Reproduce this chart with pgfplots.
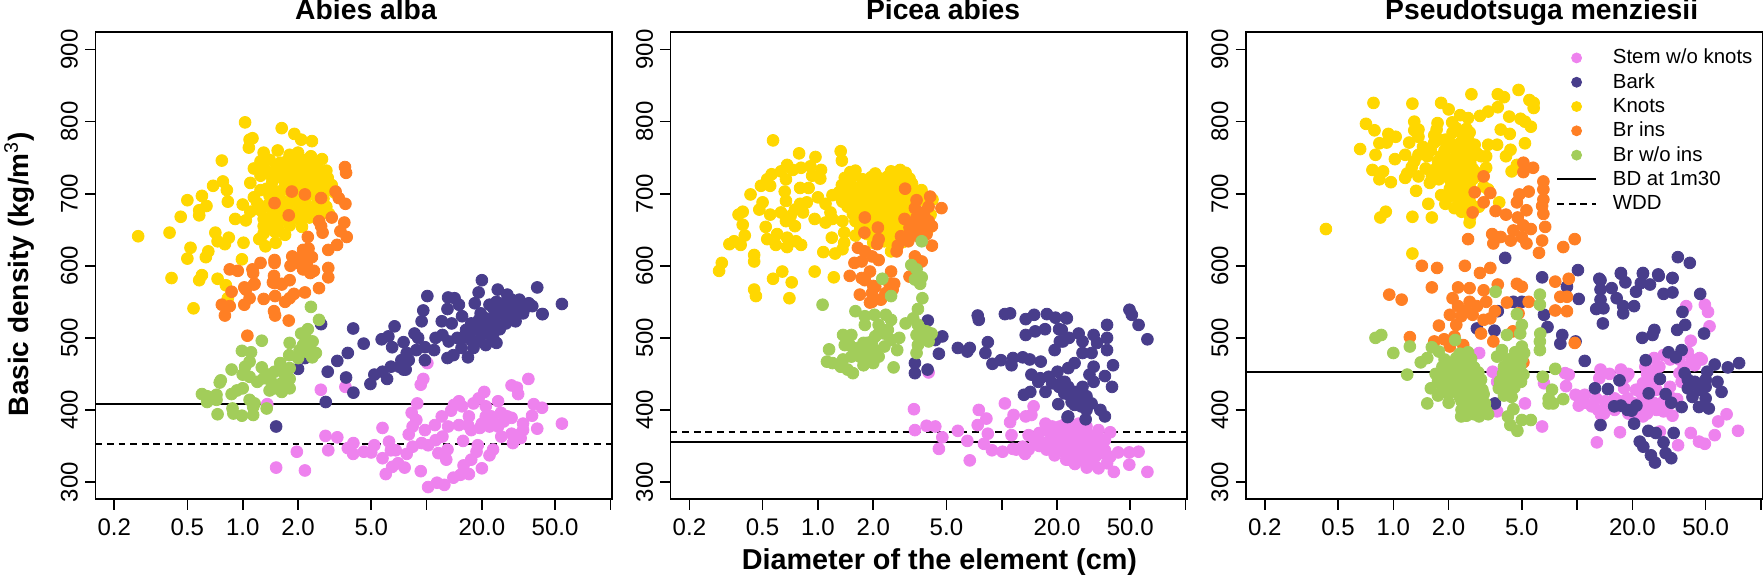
\documentclass[border=0pt]{standalone}
\usepackage{fontspec}
\setmainfont{Liberation Sans}
\usepackage{pgfplots}
\pgfplotsset{compat=1.18}

\definecolor{stemc}{HTML}{EE82EE}
\definecolor{barkc}{HTML}{483D8B}
\definecolor{knotc}{HTML}{FFD700}
\definecolor{brinc}{HTML}{FF7F24}
\definecolor{brwoc}{HTML}{A2CD5A}

\pgfplotsset{
  tripanel/.style={
    /pgfplots/.cd,
    xmin=0.158, xmax=101.8, ymin=276, ymax=924,
    scale only axis, width=258.2pt, height=233.5pt,
    xtick={0.2,0.5,1,2,5,10,20,50,100},
    xticklabels={0.2,0.5,1.0,2.0,5.0,{},20.0,50.0,{}},
    minor tick num=0, xminorticks=false,
    ytick={300,400,500,600,700,800,900},
    tick align=outside, major tick length=5.2pt,
    xtick pos=bottom, ytick pos=left,
    axis line style={line width=0.8pt}, every tick/.style={black,line width=0.8pt},
    tick label style={font=\fontsize{12}{14}\selectfont},
    yticklabel style={rotate=90,anchor=south,inner sep=0pt,outer sep=0pt},
    yticklabel shift=3.6pt,
    xticklabel style={anchor=north,inner sep=0pt,outer sep=0pt},
    xticklabel shift=4.5pt,
    title style={anchor=base,yshift=0.2pt,font=\bfseries\fontsize{14.15}{17}\selectfont},
    /pgf/number format/assume math mode=true,
  },
  pts/.style={only marks, mark=*, mark size=2.95pt, color=#1, mark options={draw=none}},
  wline/.style={black, line width=1pt, no marks},
  dline/.style={black, line width=1pt, no marks, dash pattern=on 3.4pt off 2.4pt},
}

\begin{document}
\begin{tikzpicture}
\useasboundingbox (-47.7pt,-38.35pt) rectangle (833.8pt,249.65pt);

% Abies alba
\begin{semilogxaxis}[tripanel, anchor=south west, at={(0pt,0pt)}, title={Abies alba},
  title style={at={(axis description cs:0.524,1)}}]
\addplot[pts=stemc] coordinates {(1.52,320)(2.18,316)(1.97,342)(2.82,364)(3.27,362)(2.92,344)(2.66,428)(1.36,408)(3.62,432)(10.1,465)(9.6,443)(9.3,435)(3.73,347)(4.0,354)(3.99,339)(4.56,342)(5,341)(5.2,351)(5.76,375)(6.25,356)(6.4,344)(6.8,344)(5.76,333)(6,311)(6.5,321)(7,326)(7.6,320)(7.8,339)(8.4,349)(9.4,354)(10.2,351)(11.2,358)(12.2,363)(9.3,315)(10.2,293)(11.4,299)(12.5,296)(11.6,340)(13,345)(12.8,331)(14,306)(15.3,310)(17,311)(15.9,323)(17.5,331)(20,319)(18.7,342)(19,351)(22,337)(23,345)(15.8,357)(9.8,372)(8,366)(8.4,377)(8.8,386)(8.3,396)(8.9,409)(11.1,379)(12.1,391)(13.1,377)(15,379)(13.6,399)(14.1,407)(15,412)(15.6,405)(17,391)(18,409)(19.2,416)(20.6,425)(21,405)(24.5,412)(29,434)(31,431)(31.5,422)(35.8,443)(38.3,408)(42.5,403)(37.5,392)(33.5,381)(40,374)(54.5,381)(20,381)(22.5,391)(25.4,396)(27.5,391)(29,389)(24.5,377)(22,377)(19.5,375)(17.5,372)(16.8,379)(25.5,363)(29,367)(31,365)(29.5,354)(32.5,361)(33.5,372)(23,384)(26.3,384)(21,391)};
\addplot[pts=barkc] coordinates {(1.52,377)(2.83,411)(4.0,424)(3.65,445)(2.9,453)(3.27,468)(3.73,479)(4.55,492)(3.99,513)(2.67,519)(2.0,457)(2.18,472)(4.95,436)(5.2,449)(5.76,453)(6.1,443)(6.4,460)(7.1,460)(7.5,456)(7.7,456)(7.3,469)(8.0,469)(7.8,479)(8.8,483)(9.8,469)(9.8,487)(11,483)(6.5,487)(5.7,498)(6.2,502)(7.5,494)(6.7,516)(8.6,506)(9.0,500)(9.4,523)(9.6,538)(10.1,558)(13.1,556)(14.2,555)(15,546)(13,540)(12.1,523)(13.7,520)(11.2,500)(12.2,504)(13.2,495)(13,472)(14,476)(15.5,486)(16.8,473)(15.6,500)(16.4,511)(15.6,530)(18.3,548)(19.2,563)(20,580)(24.4,567)(27.5,560)(40,570)(32,553)(37.6,544)(42.6,533)(18,486)(21,490)(24,493)(23,500)(17.5,497)(20,516)(22.5,525)(25,512)(22,546)(25.5,544)(27,535)(29.5,544)(30.5,523)(33.5,534)(29,553)(25.5,534)(23.5,530)(19.7,534)(17.5,520)(19.3,525)(21,527)(27.5,527)(30,534)(26.3,548)(23.1,541)(14.7,500)(16.8,509)(18.3,511)(54.5,547)(42.8,533)(24,550)(26,540)(28,545)(30,545)(32,540)(28,525)(34,540)(36,548)(24,520)(22,515)(27,520)(20,505)(19,495)(22,505)};
\addplot[pts=knotc] coordinates {(0.27,641)(0.40,646)(0.46,668)(0.50,691)(0.60,697)(0.58,677)(0.58,670)(0.635,683)(0.69,711)(0.78,717)(0.82,705)(0.77,746)(0.83,689)(0.91,665)(1.04,663)(0.71,646)(0.84,639)(0.73,634)(0.80,630)(1.01,632)(0.52,625)(0.50,610)(0.65,620)(0.63,612)(0.99,609)(0.41,583)(0.60,587)(0.58,580)(0.73,582)(0.81,573)(0.54,541)(0.83,555)(1.03,799)(1.63,791)(1.09,775)(1.13,777)(1.08,764)(1.91,783)(2.38,773)(2.08,775)
(1.3,757)(1.55,760)(1.8,754)(2.0,757)(2.35,752)(1.25,745)(1.4,747)(1.6,743)(1.75,746)(1.95,744)(2.2,747)(2.45,742)(2.7,748)(1.15,735)(1.3,737)(1.5,733)(1.7,736)(1.85,734)(2.05,737)(2.3,733)(2.55,736)(2.85,732)(1.25,725)(1.4,727)(1.6,723)(1.8,726)(2.0,724)(2.2,727)(2.4,723)(2.65,726)(2.9,722)(1.1,715)(1.45,717)(1.7,713)(1.9,716)(2.1,714)(2.3,717)(2.55,713)(2.8,716)(3.05,712)(1.25,705)(1.35,707)(1.55,703)(1.75,706)(2.0,704)(2.3,707)(2.6,703)(2.95,706)(3.15,702)(1.15,695)(1.4,697)(1.6,693)(1.85,696)(2.2,694)(2.5,697)(2.75,693)(1.0,685)(1.2,687)(1.35,683)(1.5,686)(1.75,684)(2.0,687)(2.25,683)(2.55,686)(2.85,682)(1.1,675)(1.25,677)(1.45,673)(1.65,676)(1.95,674)(2.15,677)(2.4,673)(2.7,676)(2.95,672)(1.3,665)(1.45,667)(1.6,663)(1.8,666)(2.05,664)(2.3,667)(2.6,663)(1.3,655)(1.4,657)(1.55,653)(1.8,656)(2.1,654)(1.3,645)(1.5,647)(1.7,643)(1.25,638)(1.51,632)(1.33,627)(1.23,637)};
\addplot[pts=brinc] coordinates {(3.6,737)(3.65,729)(1.85,703)(2.18,699)(2.67,694)(1.49,687)(1.78,670)(3.2,703)(3.33,694)(3.62,686)(3.57,660)(3.05,667)(2.6,662)(2.67,655)(2.72,646)(3.4,648)(3.68,640)(2.26,640)(3.26,629)(2.92,622)(1.86,613)(2.13,622)(2.28,624)(2.38,612)(2.04,603)(2.23,603)(1.82,600)(2.13,595)(2.33,590)(2.44,593)(1.49,608)(1.49,604)(1.25,604)(1.13,595)(1.14,590)(0.85,595)(0.94,593)(2.92,597)(2.92,584)(1.48,586)(1.46,577)(1.8,580)(1.63,575)(1.16,575)(1.02,570)(2.6,569)(2.18,563)(1.9,561)(1.8,555)(1.7,550)(1.5,558)(1.3,554)(1.15,574)(1.04,567)(1.09,555)(1.02,546)(0.87,564)(0.77,546)(0.85,544)(0.8,531)(1.48,537)(1.5,531)(1.78,524)(1.06,503)(1.49,576)(1.63,574)(2.1,612)(2.0,610)(2.25,615)};
\addplot[pts=brwoc] coordinates {(2.35,543)(2.6,525)(2.26,512)(2.08,506)(1.27,496)(1.8,493)(2.4,495)(2.2,500)(2.13,490)(2.33,486)(2.5,479)(1.79,476)(2.0,472)(2.2,481)(2.39,473)(2.04,483)(0.99,482)(1.11,480)(1.09,467)(1.03,460)(0.87,456)(1.27,459)(1.0,449)(1.09,446)(1.2,439)(0.76,441)(0.75,438)(1.6,465)(1.49,453)(1.38,449)(1.63,456)(1.8,458)(1.8,443)(1.7,449)(1.43,439)(1.63,437)(1.49,430)(1.4,427)(1.63,425)(1.8,430)(1.3,444)(1.0,430)(0.93,427)(0.87,422)(0.6,422)(0.64,419)(0.72,421)(0.64,411)(0.72,414)(1.09,414)(1.16,409)(1.14,404)(1.35,402)(0.88,402)(0.89,395)(0.99,392)(1.14,393)(0.73,394)};
\addplot[wline] coordinates {(0.158,408)(101.8,408)};
\addplot[dline] coordinates {(0.158,353)(101.8,353)};
\end{semilogxaxis}

% Picea abies
\begin{semilogxaxis}[tripanel, anchor=south west, at={(287.6pt,0pt)}, title={Picea abies},
  title style={at={(axis description cs:0.5277,1)}}]
\addplot[pts=stemc] coordinates {(3.33,401)(3.37,372)(3.9,378)(4.35,377)(4.75,362)(4.55,346)(5.77,371)(6.5,357)(6.7,330)(4,452)(7.5,400)(8.25,388)(7.4,379)(8.4,367)(8.0,353)(8.85,344)(10.1,342)(10.4,409)(11.6,393)(11.1,383)(11.3,365)(11.5,346)(13,349)(13.4,339)(13.5,391)(14.9,405)(14.5,393)(14,365)(15.2,356)(17.3,381)(17,354)(18.8,377)(18.8,363)(20.5,368)(19.4,337)(22.4,331)(23.8,349)(24.9,363)(21.5,358)(22.8,372)(25.5,379)(23,377)(26.2,381)(28.9,377)(33.6,372)(38.9,369)(23,363)(27,358)(28.9,351)(32.3,349)(36.4,344)(38.9,335)(33.6,319)(37.4,326)(40.7,314)(43,341)(49.4,341)(55.5,342)(49.4,324)(62,314)(28.9,326)(26.2,331)(23,331)(24.9,349)(32.3,335)(35,356)(29.9,365)(26.2,367)(21.9,367)(20.7,377)(36.4,358)(30.8,344)(27.5,340)(21.9,342)(15,360)(16,350)(17.5,345)(19,350)(20,358)(21,345)(22,352)(24,340)(25,335)(26,345)(27,332)(28,340)(29,336)(31,338)(30,355)(33,345)(18,370)(20,375)(22,380)(24,370)(26,360)(28,365)(31,360)(33,362)(16,368)(14,345)(12,345)(20,342)(18,356)(23,345)(35,340)(25,325)(29,320)(31,325)};
\addplot[pts=barkc] coordinates {(3.96,524)(4.75,502)(4.35,497)(4.55,478)(3.37,465)(3.37,451)(3.95,456)(5.77,486)(6.5,481)(6.7,486)(8.4,494)(8.15,479)(8.9,464)(9.9,469)(11.3,462)(11.5,472)(13,473)(14.2,470)(7.4,531)(7.5,525)(10.4,533)(11.1,534)(13.5,526)(15,532)(17.6,533)(19.6,528)(22.4,528)(13.5,504)(15.2,509)(17.2,512)(20.5,512)(21.5,495)(19.4,483)(16.3,467)(14.5,449)(15.8,439)(18,446)(20.1,453)(22,439)(17.3,425)(14.3,425)(13.2,421)(20.3,408)(22.8,390)(16.2,444)(18.8,437)(20.5,432)(22.3,428)(23.8,418)(24.9,407)(22.6,527)(23,391)(28.6,387)(36.4,391)(34.4,400)(39.8,432)(36.4,447)(31.6,439)(30,449)(40.3,462)(37.4,518)(37.4,500)(37.4,483)(31.6,504)(26.2,506)(23.2,500)(27.5,495)(33,493)(30.8,479)(27.5,479)(24.9,465)(23,458)(31.6,460)(20.7,495)(21.2,511)(49.5,539)(51,532)(55.5,518)(62,498)(21.9,423)(24.9,425)(27.5,416)(24,411)(21.2,439)(26.2,416)(28.9,419)(28.9,400)(27,405)(30.8,409)(23,432)(27.5,432)};
\addplot[pts=knotc] coordinates {(0.57,774)(0.79,756)(0.97,751)(1.33,759)(1.35,746)(0.43,699)(0.49,711)(0.56,727)(0.53,720)(0.55,711)(0.39,675)(0.37,671)(0.39,657)(0.5,688)(0.48,678)(0.55,671)(0.52,654)(0.4,642)(0.33,630)(0.35,634)(0.38,629)(0.53,637)(0.6,644)(0.59,629)(0.68,639)(0.68,626)(0.76,634)(0.81,629)(0.45,615)(0.45,606)(0.30,604)(0.29,593)(0.64,592)(0.57,582)(0.72,577)(0.96,592)(1.22,584)(1.07,619)(1.24,617)(0.45,567)(0.46,558)(0.7,555)(0.63,731)(0.68,740)(0.73,733)(0.81,736)(0.91,738)(1.04,733)(1.03,721)(0.93,725)(0.67,720)(0.8,708)(0.89,708)(0.66,703)(0.67,690)(0.87,688)(0.8,686)(0.75,678)(0.83,674)(0.71,669)(0.63,674)(0.67,662)(0.75,655)(0.96,665)(1,695)(1.1,686)(1.2,698)(1.36,689)(1.17,674)(1.1,660)(1.2,665)(1.36,662)(1.19,639)(1.39,646)(1.39,632)(1.36,623)
(1.5,730)(1.6,732)(2.05,728)(2.5,731)(2.8,733)(3.0,729)(1.4,722)(1.55,724)(1.75,720)(1.95,723)(2.2,721)(2.4,724)(2.65,720)(2.9,723)(3.15,721)(1.35,712)(1.5,714)(1.7,710)(1.85,713)(2.05,711)(2.3,714)(2.5,710)(2.7,713)(3.0,711)(3.25,714)(1.3,702)(1.4,704)(1.6,700)(1.8,703)(1.95,701)(2.15,704)(2.4,700)(2.6,703)(2.85,701)(3.1,704)(3.4,700)(3.6,703)(1.35,692)(1.5,694)(1.7,690)(1.9,693)(2.1,691)(2.3,694)(2.5,690)(2.75,693)(3.0,691)(3.3,694)(3.8,690)(1.45,682)(1.65,684)(1.8,680)(2.0,683)(2.2,681)(2.45,684)(2.7,680)(2.95,683)(3.2,681)(1.55,672)(1.75,674)(1.95,670)(2.15,673)(2.35,671)(2.6,674)(2.85,670)(3.1,673)(4.1,671)(1.6,662)(1.8,664)(2.05,660)(2.25,663)(2.5,661)(2.75,664)(3.0,660)(1.7,652)(1.95,654)(2.2,650)(2.4,653)(2.6,651)(2.9,654)(4.0,652)(1.6,642)(1.85,644)(2.1,640)(2.3,643)(2.55,641)(2.0,632)(2.3,634)(2.6,630)(2.9,633)(2.5,620)(2.65,622)(3.66,705)(4.2,692)};
\addplot[pts=brinc] coordinates {(2.98,707)(1.8,667)(1.79,646)(2.12,653)(4.08,696)(4.7,680)(3.44,691)(3.37,680)(4.0,682)(3.75,674)(2.96,665)(3.44,667)(4,662)(3.15,653)(3.67,655)(4.17,655)(2.83,641)(3.15,644)(3.5,641)(3.9,644)(3.1,634)(4.17,628)(2.72,628)(2.68,620)(3.37,613)(3.67,606)(3.44,600)(2.14,637)(2.1,630)(1.65,625)(1.8,620)(1.58,604)(1.73,606)(1.97,613)(2.14,608)(1.92,592)(2.5,592)(1.49,586)(1.73,583)(2.6,575)(2.45,575)(2.0,572)(1.8,580)(3.15,585)(1.69,560)(1.97,562)(1.97,550)(2.2,553)(2.33,562)(2.55,567)(2.05,571)(1.92,549)(3.3,660)(3.6,648)(3.8,668)(3.3,650)(3.5,660)};
\addplot[pts=brwoc] coordinates {(3.67,634)(3.22,601)(3.44,595)(3.67,584)(3.37,581)(3.6,575)(2.24,582)(2.5,558)(3.7,555)(3.5,540)(3.3,527)(3.5,518)(3.9,509)(4.15,506)(3.75,502)(4.0,495)(3.5,490)(3.44,479)(3.67,511)(3.44,504)(1.06,546)(1.6,537)(2.03,532)(1.8,530)(2.34,532)(3.0,520)(1.8,518)(2.14,518)(2.5,525)(2.77,500)(2.7,483)(2.58,459)(1.37,504)(1.52,504)(1.15,484)(1.12,467)(1.2,465)(1.33,460)(1.45,456)(1.55,451)(1.37,470)(1.52,474)(1.4,490)(1.65,486)(1.85,493)(2.05,502)(2.3,506)(2.5,497)(2.3,488)(2.05,483)(1.85,479)(1.77,462)(2.0,465)(2.14,474)(1.92,472)(1.69,474)(2.4,511)(2.14,506)(1.97,495)(1.77,493)(1.58,483)(1.49,490)};
\addplot[dline] coordinates {(0.158,370)(101.8,370)};
\addplot[wline] coordinates {(0.158,356)(101.8,356)};
\end{semilogxaxis}

% Pseudotsuga menziesii
\begin{semilogxaxis}[tripanel, anchor=south west, at={(575.3pt,0pt)}, title={Pseudotsuga menziesii},
  title style={at={(axis description cs:0.5726,1)}},
  legend cell align=left,
  legend image code/.code={\draw[mark repeat=2,mark phase=2,#1,mark size=2.5pt] plot coordinates {(0cm,0cm)(0.34cm,0cm)(0.68cm,0cm)};},
  legend style={at={(0.6008,0.9665)},anchor=north west,draw=none,fill=none,inner sep=0pt,outer sep=0pt,
    font=\fontsize{10.2}{12}\selectfont,row sep=2.15pt,
    nodes={inner sep=0pt,text height=8pt,text depth=2pt},
    /tikz/every odd column/.append style={column sep=8pt}}]
\addplot[pts=stemc] coordinates {(39.2,544)(49.5,546)(51.5,536)(52.5,516)(41.5,496)(26.2,472)(29.5,476)(23.5,460)(46.4,472)(47.6,470)(43.6,462)(37,439)(36,451)(22.8,437)(20.9,428)(27,428)(32,432)(28.2,370)(8.6,451)(9,449)(8.7,433)(6.6,437)(13.4,456)(13.2,444)(17.3,456)(18.5,446)(3.47,453)(3.67,439)(2.93,479)(5.2,409)(6.45,377)(3.67,398)(9.8,421)(11,421)(10.2,406)(12.7,416)(14.2,412)(13.5,393)(16,416)(18.8,416)(22.8,416)(25,412)(29.5,412)(22.8,391)(20.4,409)(24.4,405)(27,400)(33,392)(29.5,398)(17.1,369)(12.8,355)(41.5,368)(35.4,351)(46,356)(49.5,353)(56,365)(58.5,384)(65,394)(75,371)(33,416)(11,410)(12,405)(13,400)(14,395)(15,405)(16,400)(17,412)(19,395)(21,395)(22,402)(24,395)(26,410)(28,405)(31,405)(35,415)(38,460)(40,480)(42,470)(36,470)(32,470)(28,460)(25,440)(24,450)(26,455)(22,425)(18,430)(19,450)(15,450)};
\addplot[pts=barkc] coordinates {(4.06,611)(35.3,612)(41,604)(10.1,594)(6.45,584)(13.2,582)(17.3,590)(22.8,590)(27.6,588)(33,583)(8.8,571)(10.2,554)(13.4,580)(13.4,567)(15.4,569)(17.3,589)(18.3,577)(16.4,555)(17.8,544)(20.4,544)(13.4,553)(12.7,540)(13.9,541)(13.8,520)(17.8,534)(22.2,576)(22.8,589)(24.9,574)(20.9,564)(29.5,561)(33,563)(27.8,586)(33,583)(46.7,561)(37.4,536)(38.7,518)(35,511)(49,506)(26.3,511)(25.7,504)(22.6,500)(31.4,480)(34.4,473)(37,483)(23.6,469)(11,468)(8.3,504)(8.1,492)(9.8,495)(6.9,515)(6.6,532)(5,550)(4.5,550)(3.7,537)(2.85,513)(3.55,510)(3.57,409)(12.5,430)(14.7,429)(17,441)(28.2,443)(24.5,423)(30.3,422)(38.4,451)(43.6,439)(50,442)(40,430)(46,428)(42.4,418)(50,416)(58,439)(61,425)(56,463)(51,453)(66,459)(76,465)(50,432)(44.6,437)(40,442)(15.9,405)(17.3,406)(18.8,400)(21,406)(19.8,399)(32.5,410)(37,404)(46,404)(52,402)(13.4,379)(20.4,381)(24.4,371)(26.8,368)(33.5,368)(21.9,356)(22.9,349)(29.5,355)(25.2,337)(30.3,340)(32.5,333)(26.5,327)};
\addplot[pts=knotc] coordinates {(0.43,651)(0.78,826)(1.27,825)(1.82,826)(2.0,817)(2.66,838)(3.7,838)(4.0,834)(4.8,844)(5.5,830)(5.8,826)(5.8,819)(0.71,797)(0.79,788)(0.66,762)(0.84,770)(0.8,754)(0.94,783)(0.92,771)(1.02,748)(0.77,733)(0.88,731)(0.84,720)(0.97,716)(1.16,722)(1.33,704)(1.3,800)(1.3,788)(1.37,789)(1.74,798)(2.09,799)(2.31,809)(2.55,805)(2.96,808)(3.28,814)(3.7,820)(4.27,807)(4.92,804)(5.2,800)(5.6,793)(3.84,789)(4.3,783)(5.2,770)(3.28,768)(3.67,768)(4.1,752)(4.34,761)(4.4,731)(4.7,740)(1.03,779)(1.22,771)(1.37,779)(1.67,781)(1.92,775)(2.2,791)(1.67,771)(2.15,766)(2.55,775)(2.77,768)(1.16,754)(1.26,737)(1.37,754)(1.53,752)(1.82,752)(2.03,748)(2.34,754)(2.7,752)(3,752)(3.2,736)(3.2,752)(1.67,733)(1.82,733)(2.15,737)(2.47,737)(2.7,735)(1.19,728)(1.37,724)(1.62,724)(1.77,720)(2.03,720)(2.28,724)(2.55,724)(1.58,715)(2.15,710)(2.4,710)(2.2,701)(2.4,696)(1.82,698)(3.1,710)(3.28,706)(1.55,686)(1.92,686)(2.15,680)(2.28,689)(2.55,680)(2.92,682)(3.77,688)(2.62,668)(1.27,668)(1.62,667)(0.91,675)(0.85,667)(1.27,617)(2.47,761)(2.47,750)(2.2,759)(2.34,733)(1.92,737)(2.03,696)(2.03,707)(2.62,743)(2.85,756)(1.77,775)(1.72,789)(1.9,760)(2.0,775)(2.1,785)(2.3,770)(2.4,780)(2.5,790)(2.6,785)(2.2,745)(2.4,745)(2.6,755)(2.7,720)(2.5,715)(2.3,700)(2.5,700)(2.6,690)(2.45,725)(2.35,715)(2.2,725)(2.1,735)(1.95,725)(1.75,745)(1.6,760)(1.45,765)(1.5,735)(1.3,745)(2.05,765)(2.8,730)(2.9,725)(2.6,710)(2.3,685)(2.35,675)(2.6,660)};
\addplot[pts=brinc] coordinates {(5.1,743)(5.1,730)(5.76,736)(6.55,717)(6.55,706)(6.55,692)(6.45,683)(6.55,672)(5.45,703)(4.85,699)(5.3,677)(3.1,724)(2.77,702)(3.37,701)(3.1,688)(2.7,674)(3.6,676)(4.1,671)(4.7,688)(4.75,667)(5.1,656)(5.6,651)(6.7,654)(6.45,635)(9.7,637)(8.4,626)(6.2,618)(5.3,631)(4.35,635)(3.84,640)(3.45,644)(2.55,637)(3.5,631)(4.5,649)(5,640)(1.43,600)(1.73,597)(2.45,600)(2.96,590)(3.37,597)(7.6,578)(9,582)(4.7,575)(5,571)(3.7,574)(1.62,570)(2.25,570)(2.6,569)(3.1,566)(2.1,555)(0.95,560)(1.11,553)(2.6,550)(2.85,544)(3.2,550)(4.15,549)(5.45,550)(8.1,557)(8.8,557)(8.8,537)(7.6,538)(2.25,544)(2.03,532)(2.34,530)(2.7,532)(3.1,525)(3.57,537)(2.2,518)(3,506)(1.77,517)(3.5,495)(1.23,501)(1.67,495)(1.89,498)(2.03,488)(9.7,493)(4.47,509)(5.1,466)(4.8,534)(3.37,527)(2.48,537)(2.15,502)(2.4,490)};
\addplot[pts=brwoc] coordinates {(0.8,500)(0.86,504)(1.0,479)(1.23,488)(1.19,449)(1.41,466)(1.53,472)(1.62,487)(1.77,481)(2.17,497)(1.53,409)(2.34,391)(2.93,391)(3.28,394)(4.2,391)(4.33,379)(4.73,371)(5,386)(5.6,386)(4.5,401)(3.6,564)(6.27,560)(6.27,546)(4.7,533)(5,518)(4.9,506)(4.15,504)(6.3,506)(6.27,495)(6.27,483)(5,488)(5.15,479)(3.9,483)(3.67,474)(7.6,457)(6.5,446)(7.3,428)(7,416)(7.4,409)(8.4,415)(7,409)
(2.3,478)(2.55,480)(1.9,470)(2.2,472)(2.45,468)(2.65,471)(1.85,460)(2.05,462)(2.3,458)(2.55,461)(2.75,459)(1.7,450)(1.9,452)(2.15,448)(2.4,451)(2.65,449)(2.9,452)(1.75,440)(2.0,442)(2.25,438)(2.5,441)(2.75,439)(3.0,442)(1.6,430)(1.85,432)(2.1,428)(2.35,431)(2.6,429)(2.85,432)(3.05,428)(1.75,420)(2.0,422)(2.3,418)(2.55,421)(2.8,419)(3.1,422)(2.0,410)(2.35,412)(2.6,408)(2.85,411)(3.15,409)(2.35,400)(2.55,402)(2.8,398)(3.05,401)(3.2,399)(2.5,392)(2.75,394)
(4.6,480)(4.9,482)(4.2,470)(4.5,472)(4.8,468)(5.0,471)(4.0,460)(4.3,462)(4.6,458)(4.9,461)(3.95,450)(4.2,452)(4.5,448)(4.75,451)(5.1,449)(3.8,440)(4.05,442)(4.35,438)(4.6,441)(4.95,439)(3.75,430)(4.0,432)(4.3,428)(4.55,431)(4.0,420)(4.2,422)(4.4,418)};
\addplot[wline] coordinates {(0.158,453)(101.8,453)};
\addlegendimage{dline}
\legend{Stem w/o knots,Bark,Knots,Br ins,Br w/o ins,BD at 1m30,WDD}
\end{semilogxaxis}

\node[rotate=90,anchor=base,font=\bfseries\fontsize{14}{17}\selectfont] at (-33.5pt,112.6pt) {Basic density (kg/m{\mdseries\textsuperscript{3}})};
\node[anchor=base,font=\bfseries\fontsize{14.4}{17}\selectfont] at (422pt,-35.3pt) {Diameter of the element (cm)};
\end{tikzpicture}
\end{document}
